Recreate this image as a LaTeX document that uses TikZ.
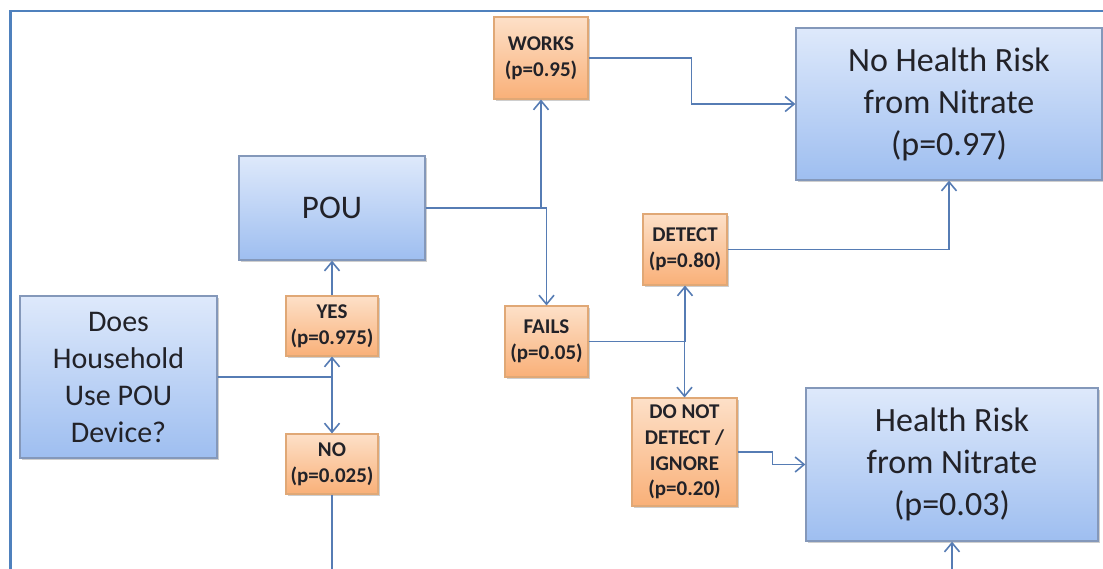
\documentclass[tikz,border=0pt]{standalone}
\usepackage{fontspec}
\setmainfont{Carlito}
\usetikzlibrary{arrows.meta,shadows}
\definecolor{TreeFrame}{RGB}{79,129,189}
\definecolor{TreeLink}{RGB}{86,124,180}
\definecolor{TreeInk}{RGB}{34,34,40}
\definecolor{OutcomeTop}{RGB}{222,233,251}
\definecolor{OutcomeBottom}{RGB}{158,190,240}
\definecolor{OutcomeEdge}{RGB}{132,152,186}
\definecolor{BranchTop}{RGB}{253,224,200}
\definecolor{BranchBottom}{RGB}{249,176,120}
\definecolor{BranchEdge}{RGB}{224,168,118}
\tikzset{
    tree/diagram/.style={
        x=1pt, y=-1pt,
        line join=miter,
        >={Straight Barb[length=9pt, width=15pt, line width=1.6pt]}
    },
    tree/frame/.style={draw=TreeFrame, line width=2.6pt},
    tree/link/.style={draw=TreeLink, line width=1.8pt},
    tree/shadow/.style={
        drop shadow={shadow xshift=1.6pt, shadow yshift=-1.8pt,
            opacity=0.35, fill=black!55}
    },
    tree/outcome/.style={
        tree/shadow, draw=OutcomeEdge, line width=1.3pt,
        top color=OutcomeTop, bottom color=OutcomeBottom,
        text=TreeInk, align=center, inner sep=0pt
    },
    tree/branch/.style={
        tree/shadow, draw=BranchEdge, line width=1.1pt,
        top color=BranchTop, bottom color=BranchBottom,
        text=TreeInk, align=center, inner sep=0pt,
        font=\fontsize{21}{25.8}\selectfont\bfseries
    }
}

\begin{document}
\begin{tikzpicture}[tree/diagram]
    \useasboundingbox (0,0) rectangle (1103,569);
    \draw[tree/frame] (10.5,569) |- (1103,11);
    \node[tree/outcome, minimum width=197pt, minimum height=162pt,
        font=\fontsize{30}{37}\selectfont] (household) at (118.5,377)
        {Does\\Household\\Use POU\\Device?};
    \node[tree/outcome, minimum width=186pt, minimum height=104pt,
        font=\fontsize{33}{40}\selectfont] (pou) at (332,208) {POU};
    \node[tree/outcome, minimum width=306pt, minimum height=152pt,
        font=\fontsize{34}{42}\selectfont] (norisk) at (949,104)
        {No Health Risk\\from Nitrate\\(p=0.97)};
    \node[tree/outcome, minimum width=292pt, minimum height=153pt,
        font=\fontsize{34}{42}\selectfont] (risk) at (952,464.5)
        {Health Risk\\from Nitrate\\(p=0.03)};
    \node[tree/branch, minimum width=92pt, minimum height=60pt] (yes)
        at (332,326) {YES\\(p=0.975)};
    \node[tree/branch, minimum width=92pt, minimum height=60pt] (no)
        at (332,464) {NO\\(p=0.025)};
    \node[tree/branch, minimum width=94pt, minimum height=82pt] (works)
        at (541,58) {WORKS\\(p=0.95)};
    \node[tree/branch, minimum width=83pt, minimum height=71pt] (fails)
        at (546.5,341.5) {FAILS\\(p=0.05)};
    \node[tree/branch, minimum width=84pt, minimum height=71pt] (detect)
        at (685,249.5) {DETECT\\(p=0.80)};
    \node[tree/branch, minimum width=105pt, minimum height=108pt] (ignore)
        at (684.5,452) {DO NOT\\DETECT /\\IGNORE\\(p=0.20)};
    \coordinate (nofeed) at (332,569);
    \coordinate (riskfeed) at (952,569);
    \draw[tree/link, ->] (household.east) -| (yes.south);
    \draw[tree/link, ->] (household.east) -| (no.north);
    \draw[tree/link, ->] (yes.north) -- (pou.south);
    \draw[tree/link] (no.south) -- (nofeed);
    \draw[tree/link, ->] (pou.east) -| (works.south);
    \draw[tree/link, ->] (pou.east) -| (fails.north);
    \draw[tree/link, ->] (works.east) -- ++(103,0) |- (norisk.west);
    \draw[tree/link, ->] (fails.east) -| (detect.south);
    \draw[tree/link, ->] (fails.east) -| (ignore.north);
    \draw[tree/link, ->] (detect.east) -| (norisk.south);
    \draw[tree/link, ->] (ignore.east) -- ++(35,0) |- (risk.west);
    \draw[tree/link, ->] (riskfeed) -- (risk.south);
\end{tikzpicture}
\end{document}
